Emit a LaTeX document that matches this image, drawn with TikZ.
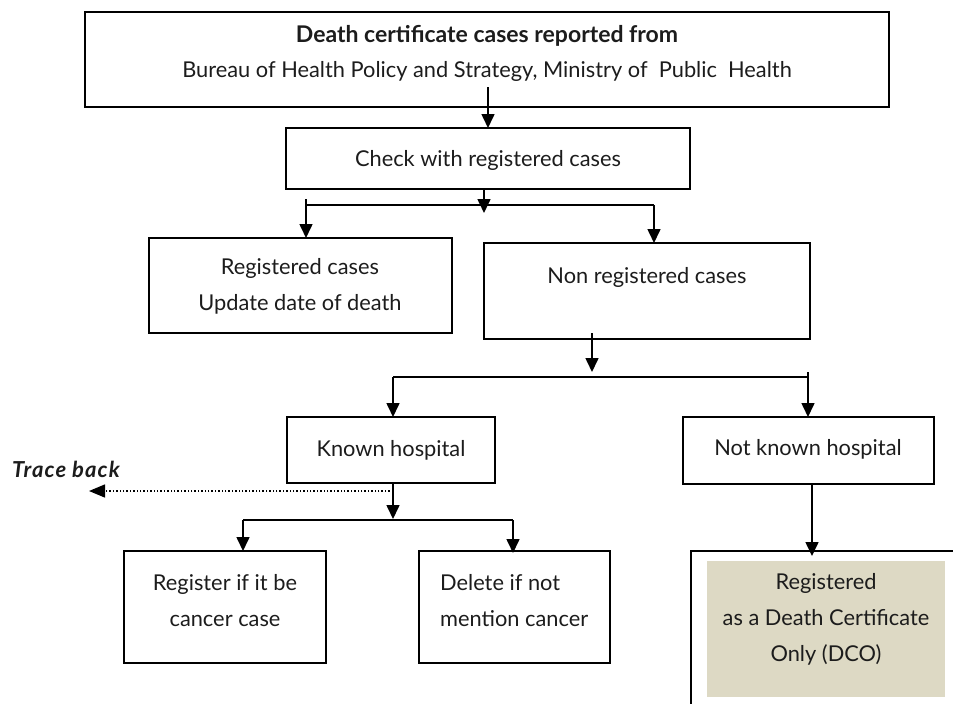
\documentclass[tikz,border=0pt]{standalone}
\usepackage{fontspec}
\setmainfont{Lato}
\usetikzlibrary{arrows.meta}
\definecolor{dcofill}{HTML}{DDD9C4}
\definecolor{ink}{HTML}{1C1C1C}
\begin{document}
\begin{tikzpicture}[x=1pt,y=-1pt,
  box/.style={draw=black, line width=1.7pt, inner sep=0pt, outer sep=0pt, anchor=north west},
  shade/.style={fill=dcofill, draw=none, inner sep=0pt, outer sep=0pt, anchor=north west},
  txt/.style={text=ink, inner sep=0pt, font=\fontsize{21.8}{36}\selectfont},
  conn/.style={line width=1.6pt, draw=black},
  arr/.style={conn, -{Triangle[width=13pt,length=14pt]}},
  dotarr/.style={line width=1.4pt, dotted, -{Triangle[width=13pt,length=16pt]}},
]
\useasboundingbox (0,0) rectangle (953,704);
% boxes
\node[box, minimum width=804pt, minimum height=95pt] (top) at (85,12) {};
\node[box, minimum width=404pt, minimum height=61pt] (check) at (286,128) {};
\node[box, minimum width=303pt, minimum height=95pt] (reg) at (149,238) {};
\node[box, minimum width=326pt, minimum height=96pt] (nonreg) at (484,243) {};
\node[box, minimum width=208pt, minimum height=66pt] (known) at (287,417) {};
\node[box, minimum width=251pt, minimum height=67pt] (notknown) at (683,417) {};
\node[box, minimum width=202pt, minimum height=112pt] (register) at (124,551) {};
\node[box, minimum width=191pt, minimum height=112pt] (delete) at (419,551) {};
\node[shade, minimum width=238pt, minimum height=136pt] (dco) at (707,561) {};
% open frame around DCO
\coordinate (fbl) at (691,704);
\coordinate (ftl) at (691,551);
\coordinate (ftr) at (953,551);
\draw[line width=1.7pt] (fbl) -- (ftl) -- (ftr);
% texts
\node[txt, font=\bfseries\fontsize{23}{36}\selectfont] (t1) at (487,36) {Death certificate cases reported from};
\node[txt] (t2) at (487,71) {Bureau of Health Policy and Strategy, Ministry of\ \ Public\ \ Health};
\node[txt] (tcheck) at (488,160) {Check with registered cases};
\node[txt, align=center] (treg) at (300,286) {Registered cases\\Update date of death};
\node[txt] (tnonreg) at (647,277) {Non registered cases};
\node[txt] (tknown) at (391,450) {Known hospital};
\node[txt] (tnotknown) at (808,449) {Not known hospital};
\node[txt, align=center] (tregister) at (225,601) {Register if it be\\cancer case};
\node[txt, align=left, anchor=west] (tdelete) at (440,601) {Delete if not\\mention cancer};
\node[txt, align=center] (tdco) at (826,619) {Registered\\as a Death Certificate\\Only (DCO)};
\node[txt, anchor=west, font=\bfseries\itshape\fontsize{22}{24}\selectfont\addfontfeature{LetterSpace=5}] (trace) at (12,469) {Trace back};
% connectors
\coordinate (s1) at (488,87);
\draw[arr] (s1) -- (s1 |- check.north);
\coordinate (s2) at (484,213);
\draw[arr] (s2 |- check.south) -- (s2);
\coordinate (b1l) at (306,205);
\coordinate (b1r) at (654,205);
\draw[conn] (b1l) -- (b1r);
\coordinate (b1ls) at (306,199);
\draw[arr] (b1ls) -- (b1ls |- reg.north);
\draw[arr] (b1r) -- (b1r |- nonreg.north);
\coordinate (s3) at (592,333);
\coordinate (s3e) at (592,372);
\draw[arr] (s3) -- (s3e);
\coordinate (b2l) at (393,377);
\coordinate (b2r) at (808,377);
\draw[conn] (b2l) -- (b2r);
\draw[arr] (b2l) -- (b2l |- known.north);
\coordinate (b2rs) at (808,372);
\draw[arr] (b2rs) -- (b2rs |- notknown.north);
\coordinate (s4) at (393,519);
\draw[arr] (s4 |- known.south) -- (s4);
\coordinate (b3l) at (243,520);
\coordinate (b3r) at (513,520);
\draw[conn] (b3l) -- (b3r);
\draw[arr] (b3l) -- (b3l |- register.north);
\coordinate (b3re) at (513,553);
\draw[arr] (b3r) -- (b3re);
\coordinate (tr0) at (393,491);
\coordinate (tr1) at (89,491);
\draw[dotarr] (tr0) -- (tr1);
\coordinate (s5) at (812,556);
\draw[arr] (s5 |- notknown.south) -- (s5);
\end{tikzpicture}
\end{document}
